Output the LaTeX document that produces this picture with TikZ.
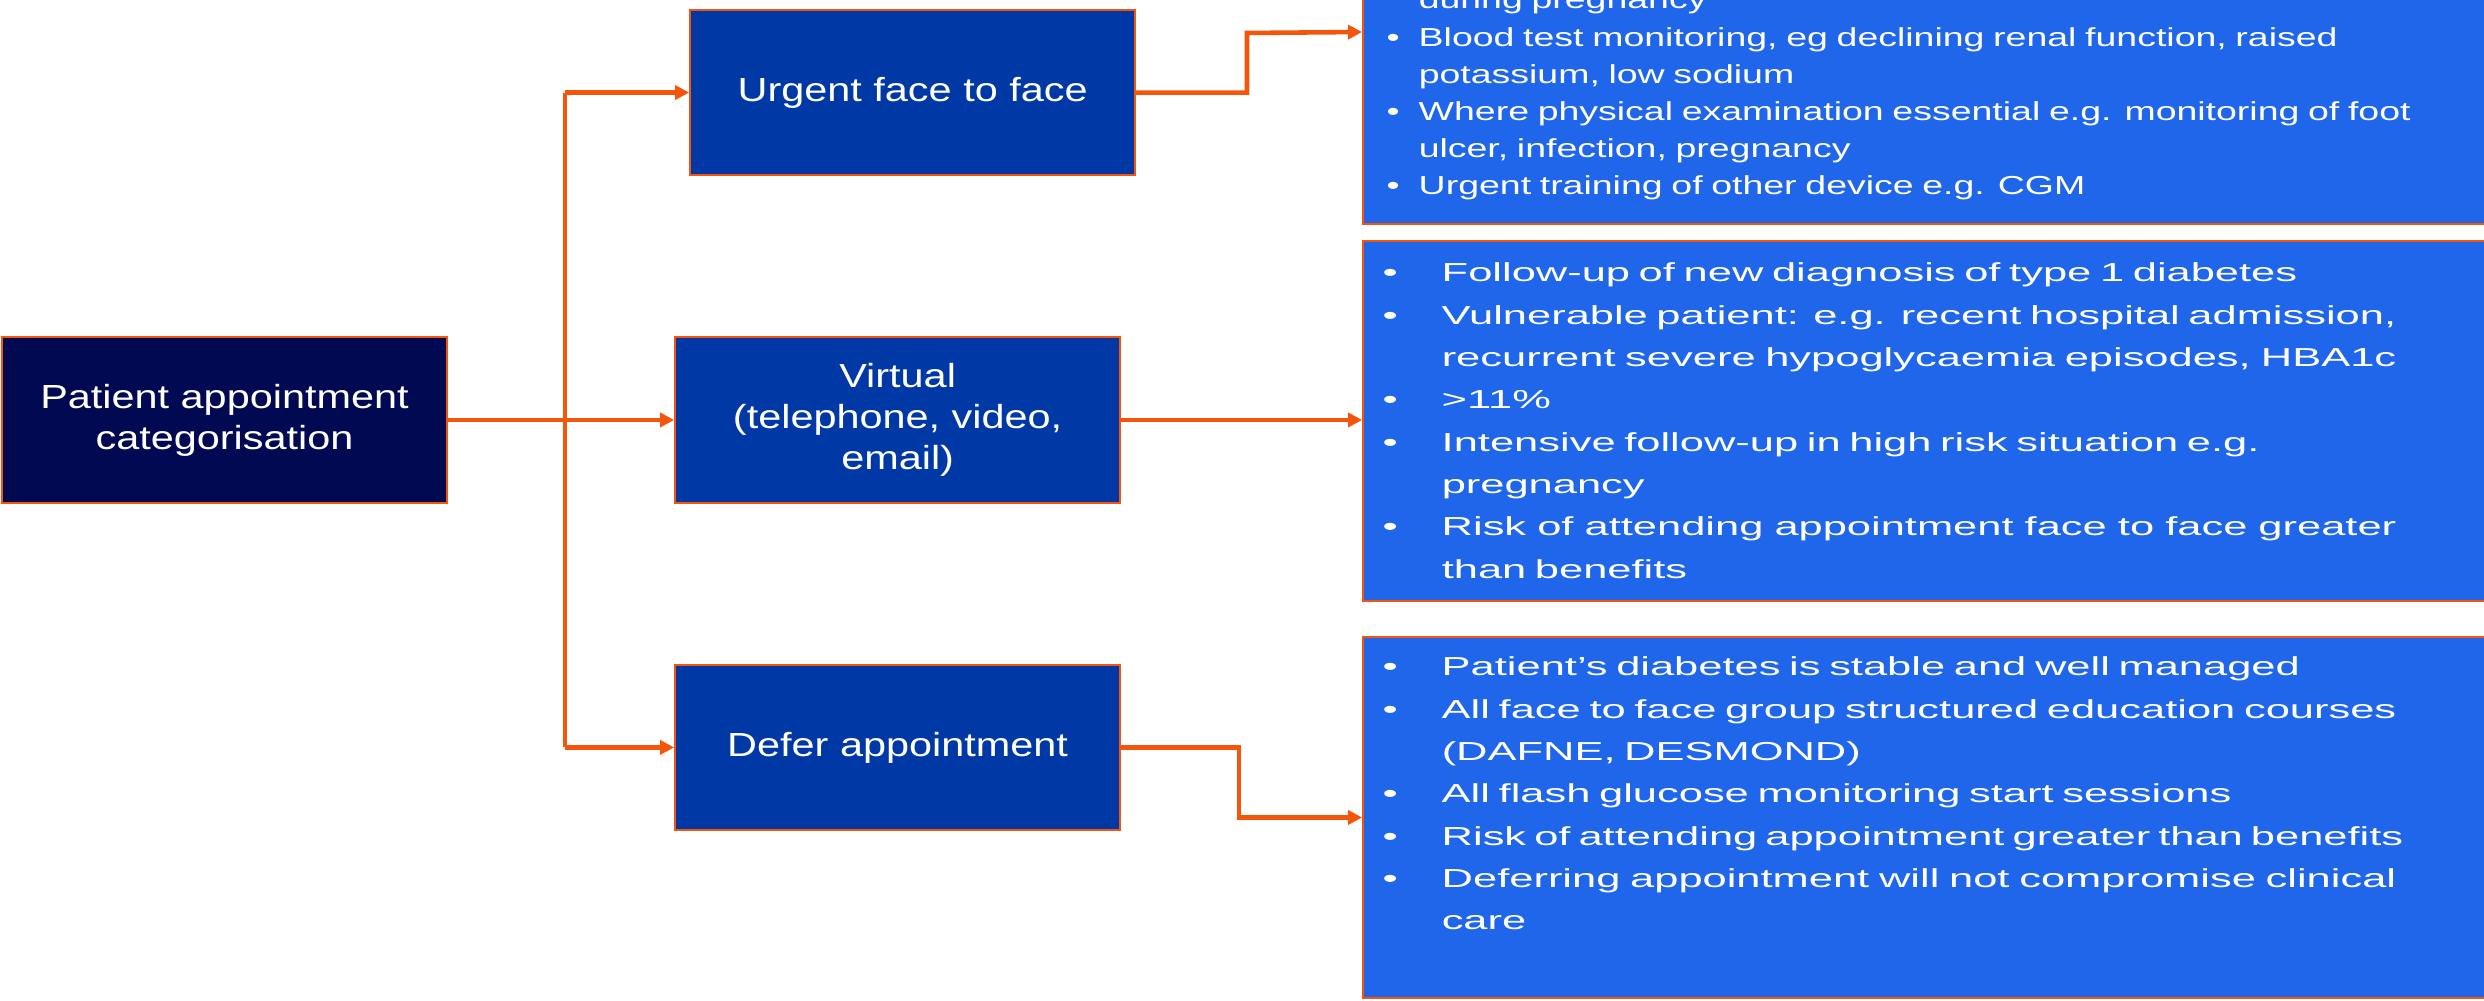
\documentclass[tikz,border=0pt]{standalone}
\usepackage{fontspec}
\setmainfont{Liberation Sans}
\newfontfamily\casefont[FakeStretch=1.24]{Liberation Sans}
\newfontfamily\listfont[FakeStretch=1.67]{Liberation Sans}
\newfontfamily\urgfont[FakeStretch=1.44]{Liberation Sans}
\usetikzlibrary{arrows.meta,positioning,fit}
\definecolor{navyfill}{RGB}{0,9,82}
\definecolor{casefill}{RGB}{0,57,165}
\definecolor{listfill}{RGB}{31,102,234}
\definecolor{flowline}{RGB}{245,85,10}
\newlength{\spreadwd}\setlength{\spreadwd}{9.54cm}
\newcommand{\spread}[1]{\makebox[\spreadwd][s]{\spaceskip=0pt\xspaceskip=0pt #1}}
\newcommand{\listbul}{\makebox[0.78cm][l]{\hspace{0.19cm}\textbullet}}
\newcommand{\listcont}{\hspace*{0.78cm}}
\newcommand{\urgbul}{\makebox[0.55cm][l]{\hspace{0.23cm}\textbullet}}
\newcommand{\urgcont}{\hspace*{0.55cm}}

\begin{document}
\begin{tikzpicture}[x=0.01cm, y=-0.01cm, node distance=1.6cm and 2.26cm]
\tikzset{casebox/.style={draw=flowline, line width=0.5pt, fill=casefill, text=white, align=center, inner sep=0pt, minimum width=4.45cm, minimum height=1.655cm, font=\casefont\fontsize{9.5}{11.7}\selectfont},
  listbox/.style={draw=flowline, line width=0.5pt, fill=listfill, inner sep=0pt},
  listtext/.style={text=white, inner sep=0pt, text width=11cm, align=left, anchor=base west, font=\listfont\fontsize{7.4}{12.03}\selectfont},
  flow/.style={draw=flowline, line width=1.3pt, -{Triangle[length=1.4mm, width=1.4mm]}},
  trunk/.style={draw=flowline, line width=1.2pt}}
\useasboundingbox (0,0) rectangle (2484,1001);
\clip (0,0) rectangle (2484,1001);
\node[casebox, fill=navyfill] (patient) at (224.5,420) {Patient appointment\\categorisation};
\node[casebox, right=of patient] (virtual) {Virtual\\(telephone, video,\\email)};
\node[casebox, above=of virtual, xshift=0.15cm] (urgent) {Urgent face to face};
\node[casebox, below=of virtual] (defer) {Defer appointment};
\node[listbox, fit={(1363,-160) (2500,224)}] (urgentcase) {};
\node[listbox, fit={(1363,241) (2500,601)}] (virtualcase) {};
\node[listbox, fit={(1363,637) (2500,998)}] (defercase) {};
\node[listtext, font=\urgfont\fontsize{7.4}{10.53}\selectfont] (urgenttext) at (1363,9) {%
\urgcont during pregnancy\\
\urgbul Blood test monitoring, eg declining renal function, raised\\
\urgcont potassium, low sodium\\
\urgbul Where physical examination essential e.g. monitoring of foot\\
\urgcont ulcer, infection, pregnancy\\
\urgbul Urgent training of other device e.g. CGM};
\node[listtext] (virtualtext) at (1363,282) {%
\listbul Follow-up of new diagnosis of type 1 diabetes\\
\listbul \spread{Vulnerable patient: e.g. recent hospital admission,}\\
\listcont \spread{recurrent severe hypoglycaemia episodes, HBA1c}\\
\listbul >11\%\\
\listbul Intensive follow-up in high risk situation e.g.\\
\listcont pregnancy\\
\listbul \spread{Risk of attending appointment face to face greater}\\
\listcont than benefits};
\node[listtext] (defertext) at (1363,676) {%
\listbul Patient’s diabetes is stable and well managed\\
\listbul \spread{All face to face group structured education courses}\\
\listcont (DAFNE, DESMOND)\\
\listbul All flash glucose monitoring start sessions\\
\listbul \spread{Risk of attending appointment greater than benefits}\\
\listbul \spread{Deferring appointment will not compromise clinical}\\
\listcont care};
\coordinate (split) at (565,420);
\coordinate (kneeA) at (1247,33);
\coordinate (kneeB) at (1239,817.5);
\draw[flow] (patient.east) -- (virtual.west);
\draw[trunk] (split |- urgent.west) -- (split |- defer.west);
\draw[flow] (split |- urgent.west) -- (urgent.west);
\draw[flow] (split |- defer.west) -- (defer.west);
\draw[flow] (urgent.east) -| (kneeA) -- (urgentcase.west);
\draw[flow] (virtual.east) -- (virtual.east -| virtualcase.west);
\draw[flow] (defer.east) -| (kneeB) -- (defercase.west);
\end{tikzpicture}
\end{document}
